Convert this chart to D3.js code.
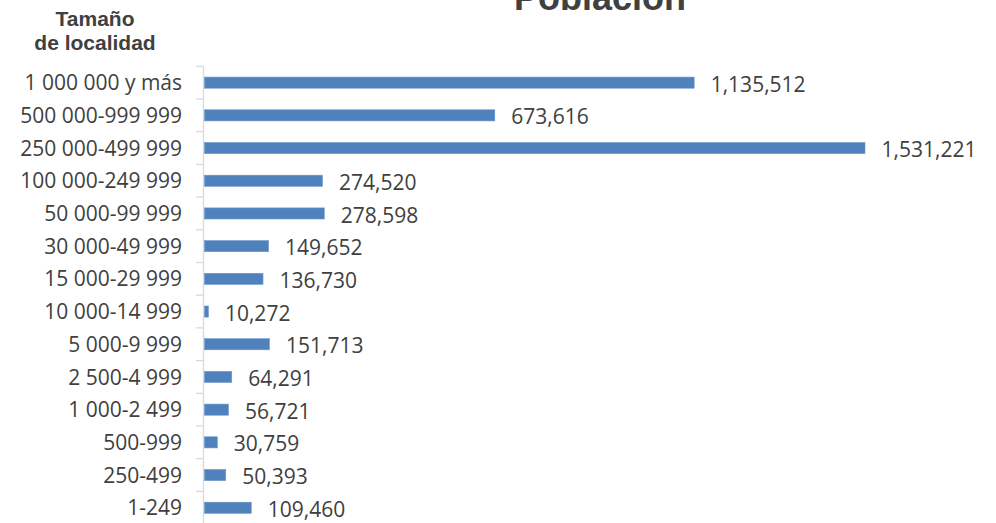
<!DOCTYPE html>
<html>
<head>
<meta charset="utf-8">
<script src="https://cdn.jsdelivr.net/npm/d3@7"></script>
<style>
  html, body { margin: 0; padding: 0; background: #fff; }
  svg { display: block; }
</style>
</head>
<body>
<svg id="chart" width="996" height="523"></svg>
<script>
const categories = [
  "1 000 000 y más", "500 000-999 999", "250 000-499 999", "100 000-249 999",
  "50 000-99 999", "30 000-49 999", "15 000-29 999", "10 000-14 999",
  "5 000-9 999", "2 500-4 999", "1 000-2 499", "500-999", "250-499", "1-249"
];
const poblacion = [
  1135512, 673616, 1531221, 274520, 278598, 149652, 136730, 10272,
  151713, 64291, 56721, 30759, 50393, 109460
];
const chartTitle = "Población";
const axisTitleLines = ["Tamaño", "de localidad"];

const data = categories.map((c, i) => ({ cat: c, val: poblacion[i] }));

const svg = d3.select("#chart");
const textColor = "#404040";

const x = d3.scaleLinear().domain([0, d3.max(poblacion)]).range([204, 865]);
const y = d3.scaleBand().domain(categories).range([66.3, 524.1]).paddingInner(0.66).paddingOuter(0.33);

// Title
svg.append("text")
  .attr("x", 600).attr("y", 10)
  .attr("text-anchor", "middle")
  .attr("font-family", "Liberation Sans, Arial, sans-serif")
  .attr("font-weight", "bold")
  .attr("font-size", 36)
  .attr("fill", textColor)
  .text(chartTitle);

// Axis title
svg.append("g").selectAll("text")
  .data(axisTitleLines).join("text")
  .attr("x", 95)
  .attr("y", (d, i) => 26 + i * 23.5)
  .attr("text-anchor", "middle")
  .attr("font-family", "Liberation Sans, Arial, sans-serif")
  .attr("font-weight", "bold")
  .attr("font-size", 21)
  .attr("fill", textColor)
  .text(d => d);

// Y axis
const yAxis = d3.axisLeft(y).tickSize(0).tickPadding(22);
const gy = svg.append("g").attr("transform", "translate(204,0)").call(yAxis);
gy.select(".domain").remove();
gy.selectAll("text")
  .attr("font-family", "Open Sans, sans-serif")
  .attr("font-size", 21)
  .attr("fill", textColor)
  .attr("dy", "0.36em");

// axis line and ticks (at band boundaries)
const step = y.step();
const boundaries = d3.range(categories.length + 1).map(i => y.range()[0] + i * step);
svg.append("line")
  .attr("x1", 203.5).attr("x2", 203.5)
  .attr("y1", boundaries[0]).attr("y2", boundaries[boundaries.length - 1])
  .attr("stroke", "#d9d9d9").attr("stroke-width", 1.3);
svg.append("g").selectAll("line")
  .data(boundaries).join("line")
  .attr("x1", 196).attr("x2", 203.5)
  .attr("y1", d => d).attr("y2", d => d)
  .attr("stroke", "#d9d9d9").attr("stroke-width", 1.3);

// Bars
svg.append("g").selectAll("rect")
  .data(data).join("rect")
  .attr("x", x(0) + 0.5)
  .attr("y", d => y(d.cat))
  .attr("width", d => x(d.val) - x(0) - 0.5)
  .attr("height", y.bandwidth())
  .attr("fill", "#4f81bd")
  .attr("stroke", "#6f98c9")
  .attr("stroke-width", 0.6);

// Value labels
svg.append("g").selectAll("text")
  .data(data).join("text")
  .attr("x", d => x(d.val) + 16.5)
  .attr("y", d => y(d.cat) + y.bandwidth() / 2 + 1.5)
  .attr("dy", "0.36em")
  .attr("font-family", "Open Sans, sans-serif")
  .attr("font-size", 21)
  .attr("fill", textColor)
  .text(d => d3.format(",")(d.val));
</script>
</body>
</html>
